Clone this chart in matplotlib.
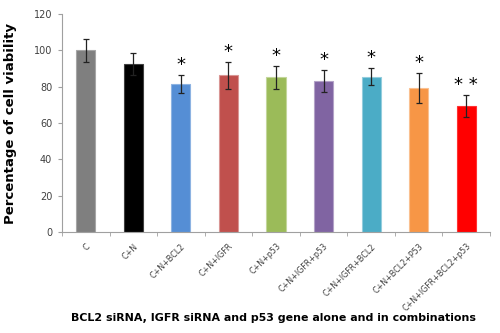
import numpy as np
import matplotlib
matplotlib.use("Agg")
import matplotlib.pyplot as plt

# values
groups = ["C", "C+N", "C+N+BCL2", "C+N+IGFR", "C+N+p53", "C+N+IGFR+p53",
          "C+N+IGFR+BCL2", "C+N+BCL2+P53", "C+N+IGFR+BCL2+p53"]
viability = [100, 92.5, 81.3, 86.2, 85.1, 83.1, 85.6, 79.2, 69.3]
errors = [6.5, 6.0, 5.0, 7.6, 6.5, 6.0, 4.5, 8.3, 6.0]
marks = ["", "", "*", "*", "*", "*", "*", "*", "**"]
colors = ["#7f7f7f", "#000000", "#558ed5", "#c0504d", "#9bbb59",
          "#8064a2", "#4bacc6", "#f79646", "#ff0000"]
edges = ["#a6a6a6", "#404040", "#8db3e2", "#d99694", "#c3d69b",
         "#b3a2c7", "#93cddd", "#fac090", "#ff3333"]

fig = plt.figure(figsize=(5, 3.33), dpi=100)
ax = fig.add_axes([0.124, 0.303, 0.856, 0.655])

x = np.arange(len(groups))
ax.bar(x, viability, width=0.4, color=colors, edgecolor=edges, linewidth=0.8,
       yerr=errors, capsize=2.5, error_kw=dict(ecolor="#222222", elinewidth=0.9, capthick=0.9))

for xi, v, e, m in zip(x, viability, errors, marks):
    if m:
        ax.text(xi, v + e + 0.5, m.replace("*", "* ").strip(), ha="center", va="bottom", fontsize=13)

ax.set_xlim(-0.5, len(groups) - 0.5)
ax.set_ylim(0, 120)
ax.set_yticks(range(0, 121, 20))
ax.tick_params(axis="y", labelsize=7, colors="#404040", length=3, color="#a0a0a0", pad=4)
ax.set_xticks(x)
ax.set_xticklabels(groups, rotation=45, ha="right", rotation_mode="anchor", fontsize=5.8, color="#404040")
ax.tick_params(axis="x", length=0, pad=7)
ax.set_xticks(np.arange(-0.5, len(groups), 1), minor=True)
ax.tick_params(axis="x", which="minor", length=3, color="#a0a0a0")

for s in ["top", "right"]:
    ax.spines[s].set_visible(False)
ax.spines["left"].set_color("#a0a0a0")
ax.spines["bottom"].set_color("#a0a0a0")

ax.set_ylabel("Percentage of cell viability", fontsize=9.5, fontweight="bold", labelpad=12)
fig.text(0.547, 0.03, "BCL2 siRNA, IGFR siRNA and p53 gene alone and in combinations",
         ha="center", va="bottom", fontsize=7.9, fontweight="bold")

fig.savefig("out.png", dpi=100)
